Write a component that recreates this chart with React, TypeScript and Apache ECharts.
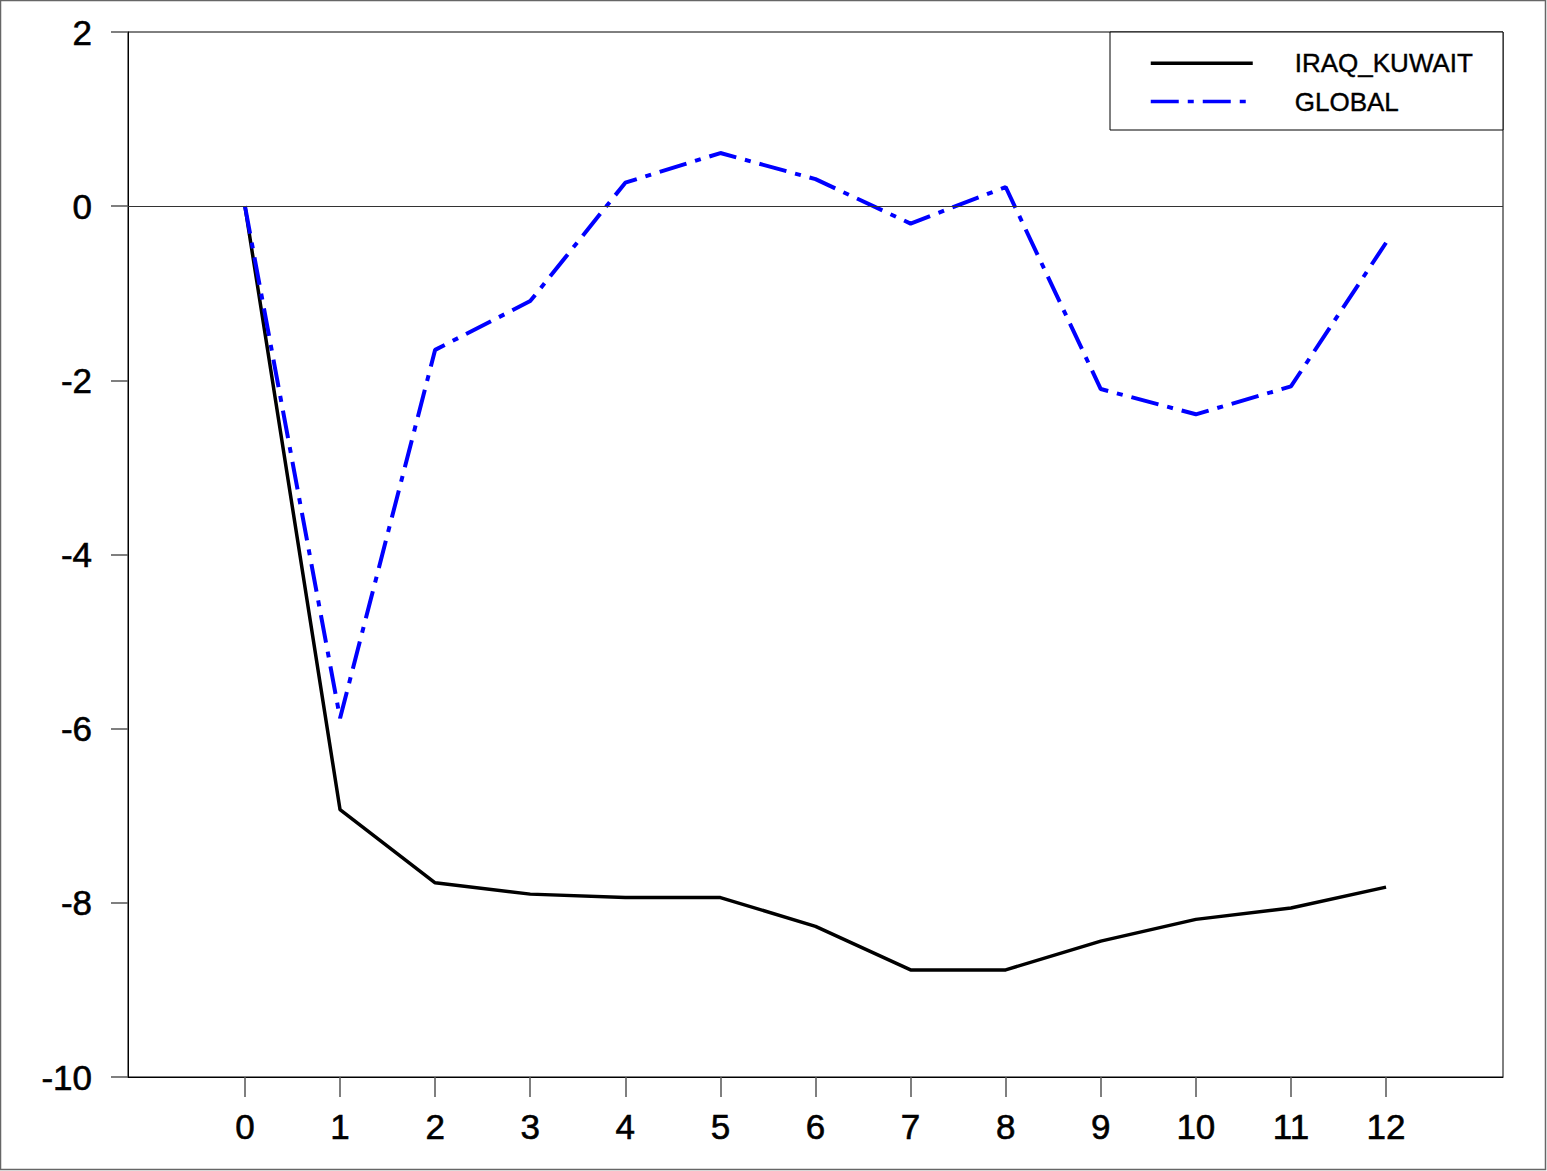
import React, { useEffect, useRef } from "react";
import * as echarts from "echarts";

const periods = [0, 1, 2, 3, 4, 5, 6, 7, 8, 9, 10, 11, 12];
const iraqKuwait = [0, -6.93, -7.77, -7.9, -7.94, -7.94, -8.27, -8.77, -8.77, -8.44, -8.19, -8.06, -7.82];
const globalVals = [0, -5.88, -1.65, -1.09, 0.27, 0.61, 0.31, -0.2, 0.22, -2.1, -2.39, -2.07, -0.42];
const yTicks = [-10, -8, -6, -4, -2, 0, 2];

export default function App() {
  const ref = useRef<HTMLDivElement>(null);
  useEffect(() => {
    if (!ref.current) return;
    const chart = echarts.init(ref.current, undefined, { renderer: "svg" });
    const font = "'Liberation Sans', Arial, Helvetica, sans-serif";
    const labelStyle = {
      color: "#000",
      fontSize: 35,
      fontFamily: font,
      textBorderColor: "#000",
      textBorderWidth: 0.6,
    };
    chart.setOption({
      animation: false,
      backgroundColor: "#fff",
      textStyle: { fontFamily: font },
      grid: {
        left: 128,
        top: 32,
        right: 44,
        bottom: 94,
        show: true,
        borderColor: "#000",
        borderWidth: 1,
        containLabel: false,
      },
      xAxis: {
        type: "value",
        min: -1.23,
        max: 13.23,
        axisLine: { show: true, onZero: false, lineStyle: { color: "#000", width: 1 } },
        axisTick: { show: true, length: 20, lineStyle: { color: "#555", width: 1.5 }, customValues: periods },
        axisLabel: { show: true, customValues: periods, margin: 32, ...labelStyle },
        splitLine: { show: false },
      },
      yAxis: {
        type: "value",
        min: -10,
        max: 2,
        interval: 2,
        axisLine: { show: true, onZero: false, lineStyle: { color: "#000", width: 1 } },
        axisTick: { show: true, length: 17, lineStyle: { color: "#555", width: 1.5 }, customValues: yTicks },
        axisLabel: { show: true, margin: 36, ...labelStyle },
        splitLine: { show: false },
      },
      legend: {
        orient: "vertical",
        left: 1144,
        top: 45,
        itemWidth: 102,
        itemHeight: 26,
        itemGap: 12,
        itemStyle: { opacity: 0 },
        lineStyle: { width: 3.5 },
        textStyle: {
          color: "#000",
          fontSize: 26,
          fontFamily: font,
          textBorderColor: "#000",
          textBorderWidth: 0.4,
          padding: [0, 0, 0, 37],
        },
        data: ["IRAQ_KUWAIT", "GLOBAL"],
      },
      graphic: [
        {
          type: "rect",
          shape: { x: 1110, y: 32, width: 393, height: 98 },
          style: { fill: "#fff", stroke: "#000", lineWidth: 1 },
          z: 1,
        },
        {
          type: "rect",
          shape: { x: 0.5, y: 0.5, width: 1545, height: 1169 },
          style: { fill: "none", stroke: "#666", lineWidth: 1.5 },
          silent: true,
        },
      ],
      series: [
        {
          name: "IRAQ_KUWAIT",
          type: "line",
          data: periods.map((p, i) => [p, iraqKuwait[i]]),
          symbol: "none",
          lineStyle: { color: "#000", width: 3.5, type: "solid" },
          itemStyle: { color: "#000" },
          z: 3,
          markLine: {
            silent: true,
            symbol: "none",
            label: { show: false },
            lineStyle: { color: "#333", width: 1, type: "solid" },
            data: [{ yAxis: 0 }],
          },
        },
        {
          name: "GLOBAL",
          type: "line",
          data: periods.map((p, i) => [p, globalVals[i]]),
          symbol: "none",
          lineStyle: { color: "#0000ff", width: 4, type: [28, 9, 6, 9] },
          itemStyle: { color: "#0000ff" },
          z: 4,
        },
      ],
    });
    return () => chart.dispose();
  }, []);
  return (
    <div
      ref={ref}
      style={{ position: "absolute", left: 0, top: 0, width: 1547, height: 1171 }}
    />
  );
}
